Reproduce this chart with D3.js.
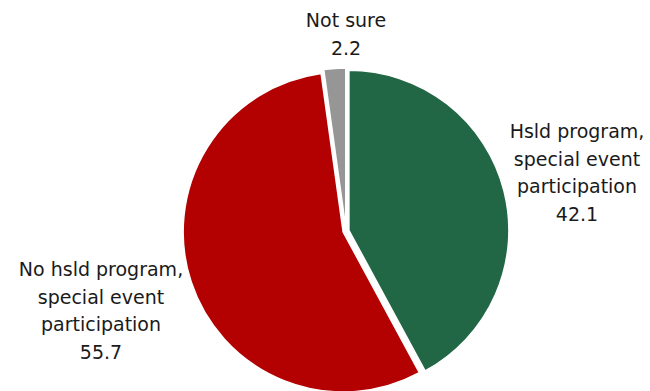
<html>
  <head>
    <meta charset="utf-8" />
    <script src="https://cdnjs.cloudflare.com/ajax/libs/d3/7.6.1/d3.min.js"></script>
    <style>
      body { margin: 0; background: #fff; }
      text { font-family: "DejaVu Sans", sans-serif; font-size: 19px; fill: #1a1a1a; }
    </style>
  </head>
  <body>
    <svg width="650" height="391"></svg>
  </body>
  <script>
    // slice data, in drawing order (clockwise from 12 o'clock)
    const categories = ["Hsld program, special event participation", "No hsld program, special event participation", "Not sure"];
    const values = [42.1, 55.7, 2.2];
    const colors = ["#226745", "#b30000", "#969696"];

    const svg = d3.select("svg"),
      cx = 346, cy = 231, radius = 160, explode = 3;

    const pie = d3.pie().sort(null).value((d) => d.value);
    const arc = d3.arc().innerRadius(0).outerRadius(radius);

    const data = categories.map((c, i) => ({ name: c, value: values[i], color: colors[i] }));

    const g = svg.append("g").attr("transform", `translate(${cx},${cy})`);

    g.selectAll("path")
      .data(pie(data))
      .enter()
      .append("path")
      .attr("d", arc)
      .attr("fill", (d) => d.data.color)
      .attr("stroke", "#fff")
      .attr("stroke-width", 1.5)
      .attr("transform", (d) => {
        const a = (d.startAngle + d.endAngle) / 2;
        return `translate(${Math.sin(a) * explode},${-Math.cos(a) * explode})`;
      });

    // labels: lines and anchor positions
    const labels = [
      { lines: ["Hsld program,", "special event", "participation", "42.1"], x: 577, y: 138 },
      { lines: ["No hsld program,", "special event", "participation", "55.7"], x: 101, y: 276 },
      { lines: ["Not sure", "2.2"], x: 346, y: 27 }
    ];

    labels.forEach((l) => {
      const t = svg.append("text").attr("text-anchor", "middle");
      l.lines.forEach((s, i) => {
        t.append("tspan").attr("x", l.x).attr("y", l.y + i * 27.5).text(s);
      });
    });
  </script>
</html>
